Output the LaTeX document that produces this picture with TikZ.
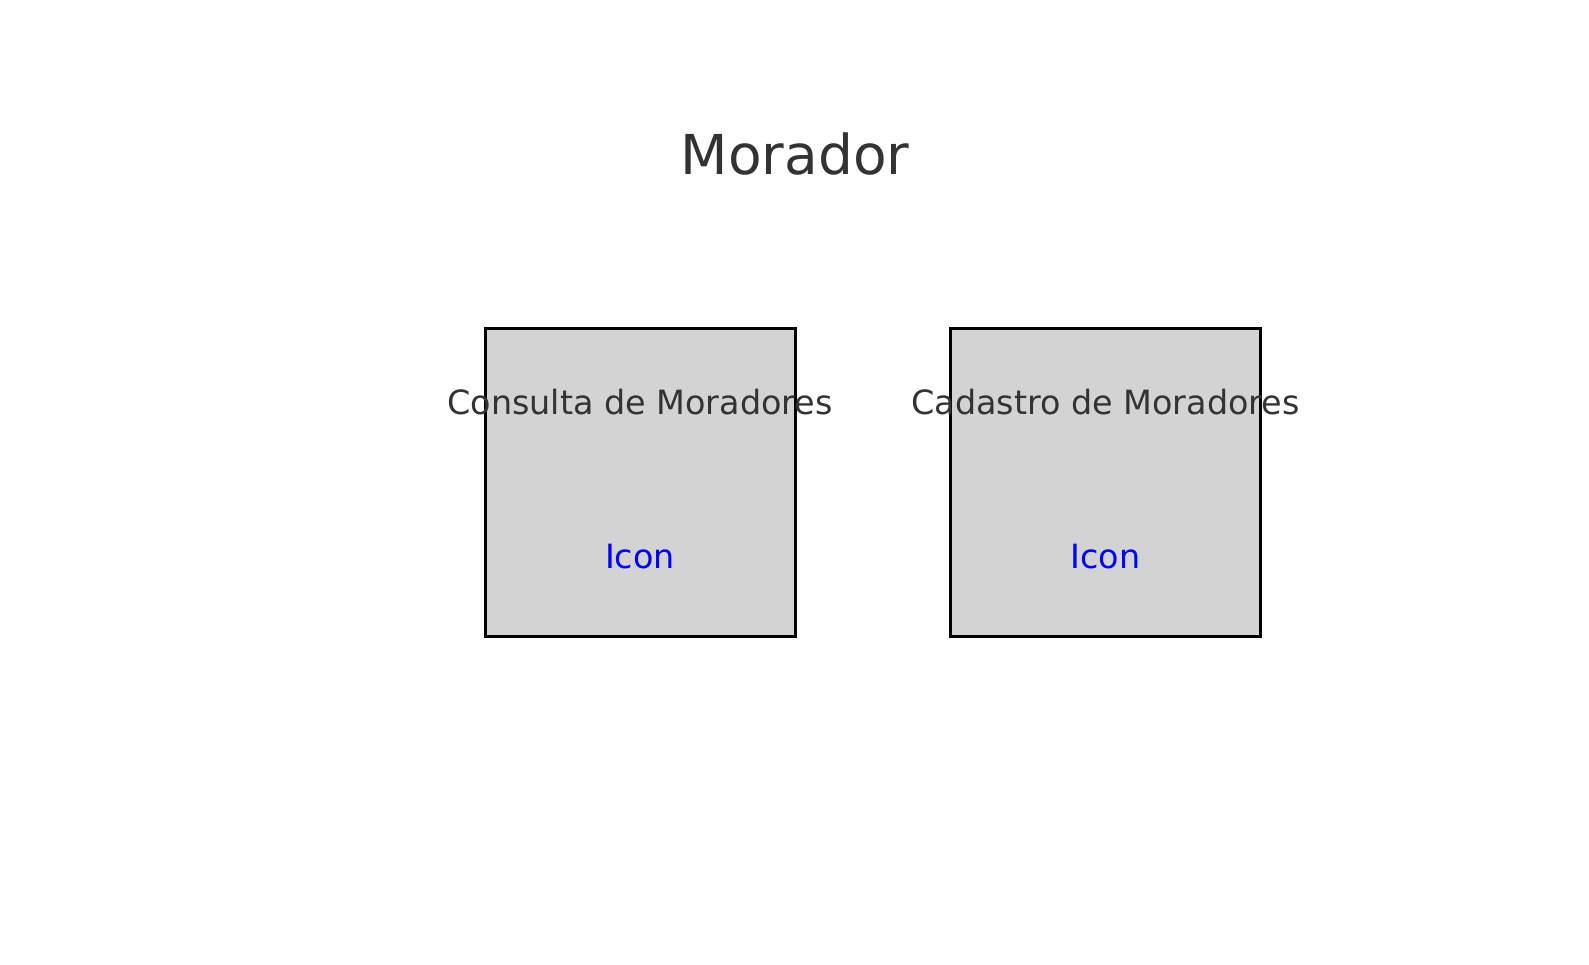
\documentclass[tikz,border=0pt]{standalone}
\usepackage{fontspec}
\setmainfont{DejaVu Sans}
\definecolor{txtgray}{HTML}{333333}
\definecolor{boxgray}{HTML}{D3D3D3}
\begin{document}
\begin{tikzpicture}[x=1pt, y=-1pt,
    screen/.style={rectangle, draw=black, line width=3pt, fill=boxgray, minimum width=310pt, minimum height=308pt, inner sep=0pt},
    caption/.style={anchor=base, text=txtgray, font=\fontsize{33.4}{40}\selectfont, inner sep=0pt},
    icon/.style={anchor=base, text=blue, font=\fontsize{33.4}{40}\selectfont, inner sep=0pt}]
  \useasboundingbox (0,0) rectangle (1589,964);
  \node[anchor=base, text=txtgray, font=\fontsize{55}{66}\selectfont, inner sep=0pt] (title) at (795,174) {Morador};

  \foreach \name/\xpos/\txt in {consulta/640/Consulta de Moradores, cadastro/1105.5/Cadastro de Moradores}
  {
    \node[screen] (\name) at (\xpos,482) {};
    \node[caption] (\name-label) at (\xpos,414) {\txt};
    \node[icon] (\name-icon) at (\xpos,568) {Icon};
  }
\end{tikzpicture}
\end{document}
